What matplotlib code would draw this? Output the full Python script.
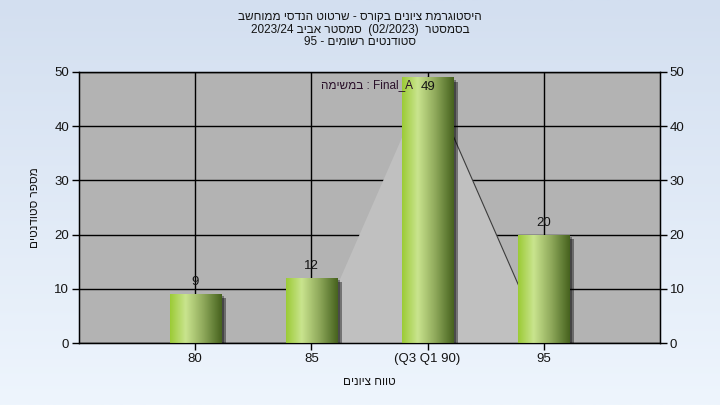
import numpy as np
import matplotlib
matplotlib.use("Agg")
import matplotlib.pyplot as plt
import matplotlib.patheffects as pe
from matplotlib.colors import LinearSegmentedColormap

plt.rcParams['font.family'] = ['Liberation Sans', 'DejaVu Sans']

# data
categories = ['80', '85', '(Q3 Q1 90)', '95']
counts = [9, 12, 49, 20]
curve = [0, 0, 49, 0]          # light grey area behind the bars
yticks = [0, 10, 20, 30, 40, 50]

title_lines = ['היסטוגרמת ציונים בקורס - שרטוט הנדסי ממוחשב',
               'בסמסטר  (02/2023)  סמסטר אביב 2023/24',
               'סטודנטים רשומים - 95']
xlabel = 'טווח ציונים'
ylabel = 'מספר סטודנטים'
note = 'Final_A : במשימה'

labelFont = 9.5
txtc = '#141414'


def rtl(s):
    # crude visual ordering for right-to-left text (matplotlib has no bidi)
    out = []
    for tok in reversed(s.split(' ')):
        if any('\u0590' <= c <= '\u05ff' for c in tok):
            tok = tok[::-1]
        out.append(tok)
    return ' '.join(out)


fig = plt.figure(figsize=(7.2, 4.05), dpi=100)

# background gradient
bg = fig.add_axes([0, 0, 1, 1], zorder=-5)
bgcm = LinearSegmentedColormap.from_list('bg', ['#d3dff0', '#eef5fd'])
bg.imshow(np.linspace(0, 1, 256).reshape(-1, 1), aspect='auto', cmap=bgcm,
          extent=(0, 1, 0, 1))
bg.axis('off')

ax = fig.add_axes([79/720, 1-343/405, 581/720, 271/405])
ax.set_facecolor('#b3b3b3')
x = np.arange(len(categories))

# area
ax.fill_between(x, 0, curve, color='#c0c0c0', zorder=1, lw=0)
ax.plot(x[2:], curve[2:], color='#3c3c3c', lw=0.8, zorder=1.2)

# bars with shadow + horizontal gradient
bars = ax.bar(x, counts, width=0.44, color='#8fb347', zorder=2,
              path_effects=[pe.SimplePatchShadow(offset=(3.5, -3), shadow_rgbFace='k', alpha=0.4),
                            pe.SimplePatchShadow(offset=(2, -1.5), shadow_rgbFace='k', alpha=0.35),
                            pe.Normal()])
barcm = LinearSegmentedColormap.from_list('bar', [(0, '#9ccb36'), (0.3, '#c9e48e'),
                                                  (0.65, '#8ea85a'), (1, '#46621e')])
grad = np.linspace(0, 1, 128).reshape(1, -1)
for r in bars:
    im = ax.imshow(grad, extent=(r.get_x(), r.get_x()+r.get_width(), 0, r.get_height()),
                   aspect='auto', cmap=barcm, zorder=3)
    im.set_clip_path(r)

for xi, v in zip(x, counts):
    if v + 4 > yticks[-1]:
        ax.annotate(str(v), (xi, v), xytext=(0, -7), textcoords='offset points',
                    ha='center', va='center', fontsize=labelFont, color=txtc, zorder=5)
    else:
        ax.annotate(str(v), (xi, v), xytext=(0, 8.5), textcoords='offset points',
                    ha='center', va='center', fontsize=labelFont, color=txtc, zorder=5)

ax.set_xlim(-1, len(categories))
ax.set_ylim(yticks[0], yticks[-1])
ax.set_xticks(x)
ax.set_xticklabels(categories)
ax.set_yticks(yticks)
ax.set_axisbelow(True)
ax.grid(True, color='black', lw=1)
ax.tick_params(direction='out', length=5, width=1, labelsize=labelFont, colors='black',
               labelcolor=txtc, pad=2)
for s in ax.spines.values():
    s.set_linewidth(1)

ax2 = ax.twinx()
ax2.set_ylim(yticks[0], yticks[-1])
ax2.set_yticks(yticks)
ax2.tick_params(direction='out', length=5, width=1, labelsize=labelFont, labelcolor=txtc, pad=2)

ax.set_xlabel(rtl(xlabel), fontsize=8.5, color=txtc, labelpad=8)
ax.set_ylabel(rtl(ylabel), fontsize=8.5, color=txtc, labelpad=10)

ax.text(0.496, 0.952, rtl(note), transform=ax.transAxes, ha='center', va='center',
        fontsize=8.5, color='#2a102a', zorder=6)

for i, t in enumerate(title_lines):
    fig.text(0.5, 1-(17+12.5*i)/405, rtl(t), ha='center', va='center', fontsize=8.5, color=txtc)

fig.savefig('out.png', dpi=100)
